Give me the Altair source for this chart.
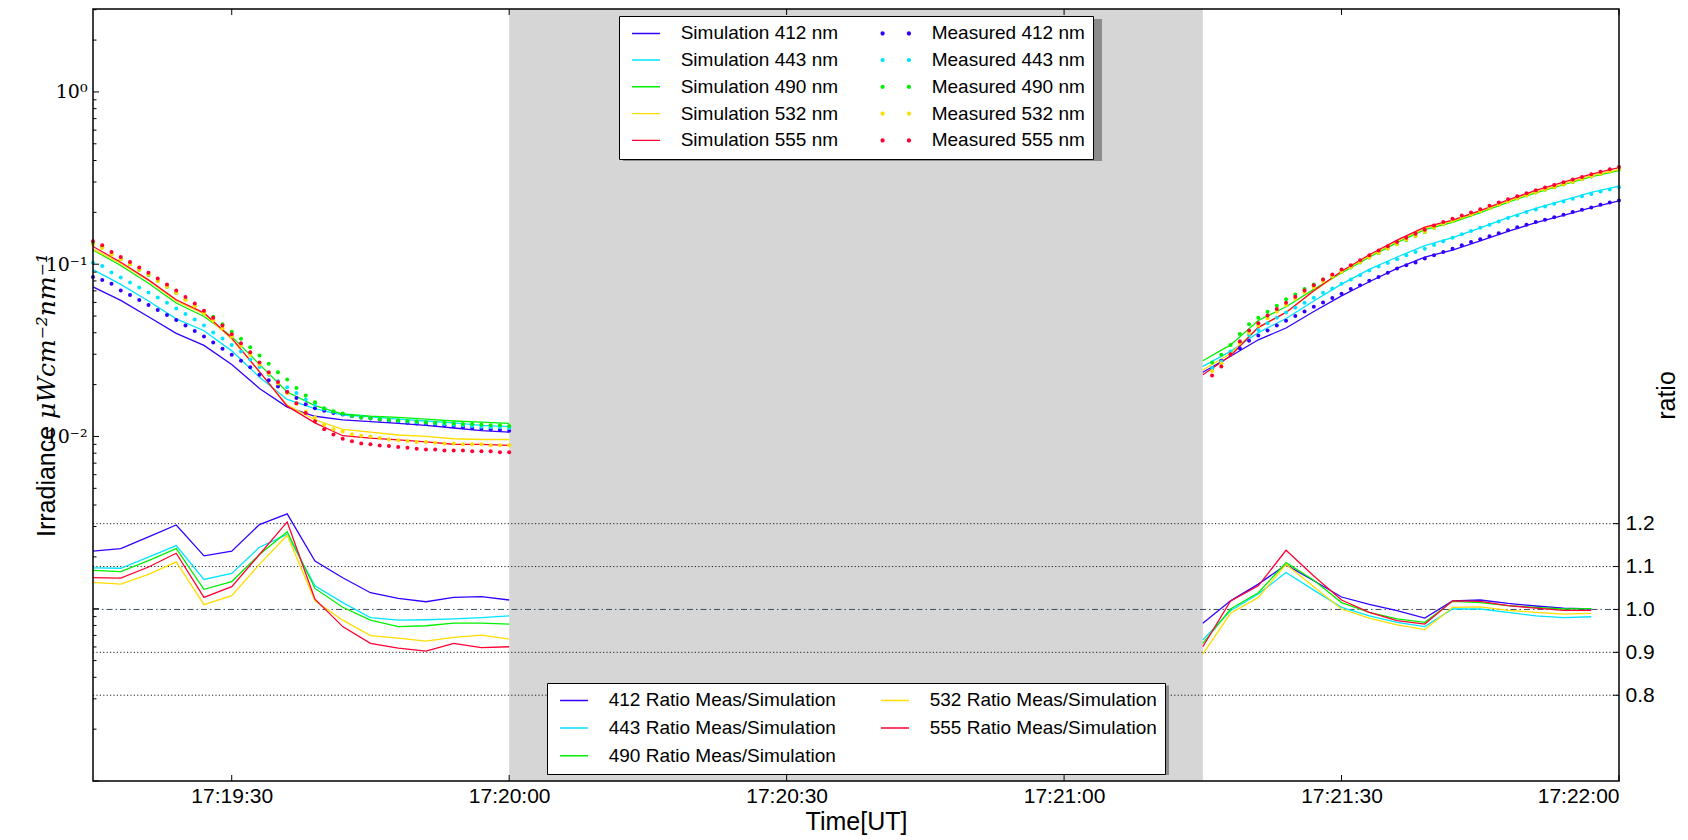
import altair as alt
import pandas as pd

# ---------------------------------------------------------------- data
WAVELENGTHS = ["412", "443", "490", "532", "555"]
COLORS = ["#3300ff", "#00e5ff", "#00f000", "#ffdd00", "#ff0033"]

# time axis: seconds after 17:19:00 UT
X_DOMAIN = [15, 180]
X_TICKS = [30, 60, 90, 120, 150, 180]
X_TICK_LABELS = ["17:19:30", "17:20:00", "17:20:30", "17:21:00", "17:21:30", "17:22:00"]
GAP_START = [60]
GAP_END = [135]

IRR_DOMAIN = [1e-4, 3.03]
IRR_LABEL_VALUES = [1, 0.1, 0.01]
IRR_LABELS = ["10⁰", "10⁻¹", "10⁻²"]
IRR_MAJOR = [1e-4, 1e-3, 1e-2, 1e-1, 1]
IRR_MINOR = [0.0002, 0.0003, 0.0004, 0.0005, 0.0006, 0.0007, 0.0008, 0.0009,
             0.002, 0.003, 0.004, 0.005, 0.006, 0.007, 0.008, 0.009,
             0.02, 0.03, 0.04, 0.05, 0.06, 0.07, 0.08, 0.09,
             0.2, 0.3, 0.4, 0.5, 0.6, 0.7, 0.8, 0.9, 2, 3]

RATIO_DOMAIN = [0.6, 2.4]
RATIO_TICKS = [0.8, 0.9, 1.0, 1.1, 1.2]
RATIO_DOTTED = [0.8, 0.9, 1.1, 1.2]
RATIO_DASHDOT = [1.0]

MEAS_T_LEFT = [15, 16, 17, 18, 19, 20, 21, 22, 23, 24, 25, 26, 27, 28, 29, 30,
               31, 32, 33, 34, 35, 36, 37, 38, 39, 40, 41, 42, 43, 44, 45, 46,
               47, 48, 49, 50, 51, 52, 53, 54, 55, 56, 57, 58, 59, 60]
MEAS_T_RIGHT = [136, 137, 138, 139, 140, 141, 142, 143, 144, 145, 146, 147, 148,
                149, 150, 151, 152, 153, 154, 155, 156, 157, 158, 159, 160, 161,
                162, 163, 164, 165, 166, 167, 168, 169, 170, 171, 172, 173, 174,
                175, 176, 177, 178, 179, 180]
SIM_T_LEFT = [15, 18, 21, 24, 27, 30, 33, 36, 39, 42, 45, 48, 51, 54, 57, 60]
SIM_T_RIGHT = [135, 138, 141, 144, 147, 150, 153, 156, 159, 162, 165, 168, 171, 174, 177, 180]
RATIO_T_LEFT = [15, 18, 21, 24, 27, 30, 33, 36, 39, 42, 45, 48, 51, 54, 57, 60]
RATIO_T_RIGHT = [135, 138, 141, 144, 147, 150, 153, 156, 159, 162, 165, 168, 171, 174, 177]

MEAS_LEFT = {
    "412": [0.0844, 0.0810, 0.0771, 0.0704, 0.0662, 0.0619, 0.0579, 0.0542, 0.0507, 0.0475,
            0.0440, 0.0410, 0.0380, 0.0351, 0.0323, 0.0298, 0.0275, 0.0252, 0.0228, 0.0212,
            0.0195, 0.0181, 0.0167, 0.0154, 0.0146, 0.0141, 0.0137, 0.0134, 0.0131, 0.0129,
            0.0127, 0.0125, 0.0123, 0.0122, 0.0120, 0.0119, 0.0118, 0.0117, 0.0116, 0.0115,
            0.0113, 0.0112, 0.0111, 0.0110, 0.0109, 0.0108],
    "443": [0.102, 0.0977, 0.0894, 0.0837, 0.0783, 0.0732, 0.0685, 0.0641, 0.0597, 0.0554,
            0.0514, 0.0478, 0.0440, 0.0402, 0.0371, 0.0340, 0.0311, 0.0280, 0.0253, 0.0228,
            0.0209, 0.0193, 0.0179, 0.0164, 0.0153, 0.0145, 0.0139, 0.0135, 0.0132, 0.0130,
            0.0128, 0.0126, 0.0124, 0.0123, 0.0122, 0.0121, 0.0120, 0.0119, 0.0118, 0.0117,
            0.0116, 0.0115, 0.0114, 0.0113, 0.0113, 0.0112],
    "490": [0.132, 0.125, 0.114, 0.107, 0.100, 0.093, 0.0865, 0.080, 0.074, 0.068,
            0.0625, 0.0575, 0.052, 0.0496, 0.0448, 0.0406, 0.0369, 0.0330, 0.0295, 0.0264,
            0.0236, 0.0214, 0.0191, 0.0173, 0.0158, 0.0146, 0.0140, 0.0136, 0.0132, 0.0129,
            0.0128, 0.0126, 0.0125, 0.0124, 0.0123, 0.0122, 0.0121, 0.0120, 0.0120, 0.0119,
            0.0118, 0.0118, 0.0117, 0.0116, 0.0116, 0.0115],
    "532": [0.130, 0.124, 0.114, 0.107, 0.100, 0.093, 0.087, 0.080, 0.074, 0.068,
            0.062, 0.057, 0.052, 0.0473, 0.0425, 0.038, 0.0337, 0.0298, 0.0262, 0.0231,
            0.0203, 0.0178, 0.0155, 0.0139, 0.0129, 0.0117, 0.0110, 0.0107, 0.0103, 0.0101,
            0.0100, 0.0098, 0.0096, 0.0095, 0.0094, 0.0093, 0.0093, 0.0092, 0.0091, 0.0091,
            0.0090, 0.0090, 0.0090, 0.0089, 0.0089, 0.0089],
    "555": [0.136, 0.1288, 0.1178, 0.1102, 0.1031, 0.0956, 0.0891, 0.0826, 0.0762, 0.0704,
            0.0645, 0.0592, 0.0537, 0.0489, 0.0440, 0.0392, 0.0348, 0.0308, 0.0269, 0.0236,
            0.0207, 0.0181, 0.0156, 0.0137, 0.01226, 0.0110, 0.01025, 0.0097, 0.00939, 0.0091,
            0.0090, 0.00887, 0.0088, 0.0087, 0.0086, 0.0085, 0.0084, 0.0084, 0.0083, 0.0083,
            0.0083, 0.0082, 0.0082, 0.0082, 0.0081, 0.0081],
}
MEAS_RIGHT = {
    "412": [0.0249, 0.0275, 0.0298, 0.0325, 0.0359, 0.0385, 0.0412, 0.0440, 0.0470, 0.0500,
            0.0532, 0.0567, 0.0600, 0.0636, 0.0674, 0.0717, 0.0756, 0.0801, 0.0844, 0.0891,
            0.0944, 0.0987, 0.1022, 0.1078, 0.1126, 0.1178, 0.1231, 0.1287, 0.1345, 0.1394,
            0.1451, 0.1510, 0.1572, 0.1636, 0.1695, 0.1756, 0.1811, 0.1876, 0.1936, 0.2006,
            0.2069, 0.2135, 0.2212, 0.2281, 0.2343],
    "443": [0.0250, 0.0272, 0.0311, 0.0356, 0.0388, 0.0415, 0.0454, 0.0489, 0.0525, 0.0559,
            0.0597, 0.0638, 0.0682, 0.0723, 0.0769, 0.0815, 0.0864, 0.0919, 0.0969, 0.1017,
            0.1068, 0.1126, 0.1178, 0.1231, 0.1293, 0.1358, 0.1426, 0.1491, 0.1558, 0.1629,
            0.1695, 0.1772, 0.1852, 0.1919, 0.2006, 0.2079, 0.2163, 0.2241, 0.2312, 0.2395,
            0.2482, 0.2560, 0.2641, 0.2713, 0.2798],
    "490": [0.0269, 0.0298, 0.0340, 0.0394, 0.0448, 0.0489, 0.0530, 0.0574, 0.0627, 0.0667,
            0.0717, 0.0763, 0.0815, 0.0845, 0.0903, 0.0956, 0.1022, 0.1092, 0.1163, 0.1232,
            0.1305, 0.1383, 0.1458, 0.1538, 0.1630, 0.1703, 0.1781, 0.1861, 0.1937, 0.2024,
            0.2117, 0.2213, 0.2312, 0.2408, 0.2506, 0.2607, 0.2702, 0.2800, 0.2900, 0.3005,
            0.3114, 0.3226, 0.3343, 0.3447, 0.3556],
    "532": [0.0240, 0.0265, 0.0300, 0.0350, 0.0400, 0.0440, 0.0485, 0.0530, 0.0580, 0.0630,
            0.0685, 0.0735, 0.0795, 0.0850, 0.0905, 0.0960, 0.1025, 0.1095, 0.1165, 0.1235,
            0.1310, 0.1390, 0.1465, 0.1545, 0.1635, 0.1710, 0.1790, 0.1870, 0.1945, 0.2035,
            0.2125, 0.2220, 0.2320, 0.2415, 0.2515, 0.2615, 0.2710, 0.2810, 0.2910, 0.3015,
            0.3125, 0.3235, 0.3355, 0.3460, 0.3570],
    "555": [0.0226, 0.0255, 0.0300, 0.0356, 0.0412, 0.0454, 0.0503, 0.0549, 0.0597, 0.0647,
            0.0704, 0.0756, 0.0815, 0.0871, 0.0931, 0.0986, 0.1054, 0.1126, 0.1199, 0.1270,
            0.1345, 0.1426, 0.1503, 0.1586, 0.1680, 0.1756, 0.1836, 0.1919, 0.1997, 0.2087,
            0.2182, 0.2281, 0.2384, 0.2482, 0.2583, 0.2688, 0.2786, 0.2886, 0.2990, 0.3098,
            0.3210, 0.3326, 0.3446, 0.3554, 0.3666],
}
SIM_LEFT = {
    "412": [0.0739, 0.0617, 0.0495, 0.0397, 0.0338, 0.0262, 0.0190, 0.0148,
            0.0131, 0.0125, 0.0122, 0.0119, 0.0116, 0.0112, 0.0108, 0.0106],
    "443": [0.0930, 0.0764, 0.0611, 0.0482, 0.0411, 0.0314, 0.0221, 0.0164,
            0.0145, 0.0133, 0.0130, 0.0126, 0.0123, 0.0120, 0.0116, 0.0114],
    "490": [0.121, 0.0983, 0.0776, 0.0595, 0.0497, 0.0381, 0.0262, 0.0181,
            0.0151, 0.0135, 0.0131, 0.0129, 0.0126, 0.0123, 0.0121, 0.0119],
    "532": [0.1223, 0.1010, 0.0804, 0.0612, 0.0514, 0.0368, 0.0237, 0.0152,
            0.0125, 0.0110, 0.0106, 0.0102, 0.0100, 0.0097, 0.0096, 0.0096],
    "555": [0.1266, 0.1027, 0.0811, 0.0622, 0.0522, 0.0372, 0.0238, 0.0150,
            0.0120, 0.0101, 0.00977, 0.00956, 0.00930, 0.00901, 0.00900, 0.00887],
}
SIM_RIGHT = {
    "412": [0.0236, 0.0292, 0.0364, 0.0426, 0.0531, 0.0655, 0.0791, 0.0946,
            0.1100, 0.1207, 0.1364, 0.1550, 0.1742, 0.1921, 0.2129, 0.2330],
    "443": [0.0255, 0.0312, 0.0401, 0.0484, 0.0611, 0.0766, 0.0933, 0.1101,
            0.1282, 0.1425, 0.1627, 0.1865, 0.2111, 0.2347, 0.2610, 0.2836],
    "490": [0.0275, 0.0340, 0.0471, 0.0566, 0.0714, 0.0889, 0.1100, 0.1334,
            0.1586, 0.1748, 0.1992, 0.2291, 0.2594, 0.2897, 0.3221, 0.3490],
    "532": [0.0243, 0.0303, 0.0428, 0.0525, 0.0698, 0.0904, 0.1117, 0.1359,
            0.1621, 0.1781, 0.2023, 0.2325, 0.2633, 0.2930, 0.3264, 0.3540],
    "555": [0.0228, 0.0294, 0.0430, 0.0525, 0.0701, 0.0911, 0.1134, 0.1381,
            0.1642, 0.1800, 0.2048, 0.2363, 0.2680, 0.2996, 0.3333, 0.3640],
}
RATIO_LEFT = {
    "412": [1.136, 1.142, 1.169, 1.197, 1.125, 1.136, 1.198, 1.223,
            1.113, 1.074, 1.039, 1.026, 1.018, 1.028, 1.030, 1.022],
    "443": [1.097, 1.096, 1.122, 1.149, 1.070, 1.084, 1.145, 1.175,
            1.055, 1.016, 0.981, 0.975, 0.976, 0.978, 0.981, 0.985],
    "490": [1.091, 1.088, 1.114, 1.142, 1.047, 1.065, 1.128, 1.181,
            1.049, 1.005, 0.975, 0.960, 0.962, 0.968, 0.968, 0.966],
    "532": [1.063, 1.059, 1.082, 1.111, 1.011, 1.032, 1.105, 1.173,
            1.020, 0.975, 0.939, 0.933, 0.926, 0.935, 0.940, 0.931],
    "555": [1.074, 1.073, 1.099, 1.131, 1.028, 1.053, 1.128, 1.204,
            1.024, 0.960, 0.921, 0.910, 0.903, 0.921, 0.911, 0.913],
}
RATIO_RIGHT = {
    "412": [0.968, 1.020, 1.059, 1.104, 1.067, 1.029, 1.012, 0.997,
            0.980, 1.020, 1.022, 1.014, 1.008, 1.003, 1.001],
    "443": [0.929, 0.997, 1.036, 1.086, 1.045, 1.005, 0.985, 0.970,
            0.960, 1.001, 1.001, 0.993, 0.985, 0.981, 0.983],
    "490": [0.921, 1.001, 1.039, 1.109, 1.068, 1.016, 0.993, 0.978,
            0.970, 1.019, 1.016, 1.009, 1.005, 1.001, 1.002],
    "532": [0.896, 0.991, 1.028, 1.105, 1.053, 1.001, 0.980, 0.964,
            0.953, 1.005, 1.006, 0.998, 0.993, 0.989, 0.991],
    "555": [0.913, 1.020, 1.055, 1.138, 1.078, 1.022, 0.993, 0.974,
            0.966, 1.020, 1.019, 1.009, 1.003, 0.998, 0.998],
}

# legend entries (Vega fills the two columns top to bottom)
LEG_A_LABELS = ([f"Simulation {wl} nm" for wl in WAVELENGTHS]
                + [f"Measured {wl} nm" for wl in WAVELENGTHS])
LEG_A_COLORS = COLORS + COLORS
LEG_A_KIND = ["line"] * 5 + ["dots"] * 5
LEG_B_LABELS = [f"{wl} Ratio Meas/Simulation" for wl in WAVELENGTHS]
LEG_B_COLORS = COLORS

# ---------------------------------------------------------------- tables
def long_table(times_l, times_r, left, right, name):
    rows = []
    for wl in WAVELENGTHS:
        for seg, ts, vs in (("L", times_l, left[wl]), ("R", times_r, right[wl])):
            for t, v in zip(ts, vs):
                rows.append({"wl": wl, "seg": seg, "t": t, name: v})
    return pd.DataFrame(rows)

sim_df = long_table(SIM_T_LEFT, SIM_T_RIGHT, SIM_LEFT, SIM_RIGHT, "v")
meas_df = long_table(MEAS_T_LEFT, MEAS_T_RIGHT, MEAS_LEFT, MEAS_RIGHT, "v")
ratio_df = long_table(RATIO_T_LEFT, RATIO_T_RIGHT, RATIO_LEFT, RATIO_RIGHT, "r")
band_df = pd.DataFrame({"x0": GAP_START, "x1": GAP_END})
xt_df = pd.DataFrame({"t": X_TICKS})
ymaj_df = pd.DataFrame({"v": IRR_MAJOR})
ymin_df = pd.DataFrame({"v": IRR_MINOR})
rt_df = pd.DataFrame({"r": RATIO_TICKS})
dot_df = pd.DataFrame({"r": RATIO_DOTTED})
dd_df = pd.DataFrame({"r": RATIO_DASHDOT})
one_df = pd.DataFrame({"a": [0]})
legA_df = pd.DataFrame({"la": LEG_A_LABELS})
legB_df = pd.DataFrame({"lb": LEG_B_LABELS})

# ---------------------------------------------------------------- styling
W, H = 1526, 772
FONT = "Liberation Sans"
LINE_PATH = "M-0.62,-0.05L1.38,-0.05L1.38,0.05L-0.62,0.05Z"
DOTS_PATH = ("M-0.80,0A0.15,0.15 0 1 0 -0.50,0A0.15,0.15 0 1 0 -0.80,0Z"
             "M1.08,0A0.15,0.15 0 1 0 1.38,0A0.15,0.15 0 1 0 1.08,0Z")
LEG_A_SHAPES = [LINE_PATH if k == "line" else DOTS_PATH for k in LEG_A_KIND]
B_LINE_PATH = "M-0.69,0L1.31,0"

x_expr = "''"
for v, lab in reversed(list(zip(X_TICKS, X_TICK_LABELS))):
    x_expr = f"datum.value == {v} ? '{lab}' : ({x_expr})"
y_expr = "''"
for v, lab in reversed(list(zip(IRR_LABEL_VALUES, IRR_LABELS))):
    y_expr = f"abs(datum.value - {v}) < {v} * 0.001 ? '{lab}' : ({y_expr})"

x_scale = alt.Scale(domain=X_DOMAIN, nice=False, zero=False)
x_axis = alt.Axis(values=X_TICKS, labelExpr=x_expr, title="Time[UT]",
                  labelFont=FONT, labelFontSize=21, labelPadding=4,
                  titleFont=FONT, titleFontSize=25, titleFontWeight="normal",
                  titleY=48, titleBaseline="alphabetic")
yl_scale = alt.Scale(type="log", domain=IRR_DOMAIN, nice=False)
yl_axis = alt.Axis(orient="left", values=IRR_LABEL_VALUES, labelExpr=y_expr,
                   labelFont="DejaVu Serif", labelFontSize=19, labelPadding=6,
                   title=None)
yr_scale = alt.Scale(domain=RATIO_DOMAIN, nice=False, zero=False)
yr_axis = alt.Axis(orient="right", values=RATIO_TICKS, format=".1f",
                   labelFont=FONT, labelFontSize=21, labelPadding=6,
                   title="ratio", titleFont=FONT, titleFontSize=25,
                   titleFontWeight="normal", titleAngle=270, titleX=55,
                   titleY=H / 2, titleAlign="center", titleBaseline="alphabetic")

color = alt.Color("wl:N", scale=alt.Scale(domain=WAVELENGTHS, range=COLORS), legend=None)

def X(field="t"):
    return alt.X(f"{field}:Q", scale=x_scale, axis=x_axis)

def YL():
    return alt.Y("v:Q", scale=yl_scale, axis=yl_axis)

def YR():
    return alt.Y("r:Q", scale=yr_scale, axis=yr_axis)

def legend_a():
    return alt.Legend(title=None, orient="none", legendX=526, legendY=7,
                      columns=2, symbolSize=784, symbolStrokeWidth=0,
                      labelFont=FONT, labelFontSize=19, labelColor="black",
                      labelOffset=26, labelLimit=400, rowPadding=6.8,
                      columnPadding=39, padding=7.7, clipHeight=19,
                      strokeColor="black", fillColor="white")

# ---------------------------------------------------------------- left (irradiance)
band = alt.Chart(band_df).mark_rect(color="#d6d6d6").encode(
    x=X("x0"), x2="x1:Q", y=alt.value(0), y2=alt.value(H))

sim = alt.Chart(sim_df).mark_line(strokeWidth=1.3).encode(
    x=X(), y=YL(), color=color, detail="seg:N")

meas = alt.Chart(meas_df).mark_circle(size=16, opacity=1).encode(
    x=X(), y=YL(), color=color)

ymaj = alt.Chart(ymaj_df).mark_rule(color="black", strokeWidth=1).encode(
    y=YL(), x=alt.value(0), x2=alt.value(6))
ymin = alt.Chart(ymin_df).mark_rule(color="black", strokeWidth=1).encode(
    y=YL(), x=alt.value(0), x2=alt.value(3.5))

title1 = alt.Chart(one_df).mark_text(
    text="Irradiance", angle=270, align="left", baseline="alphabetic",
    font=FONT, fontSize=25, color="black").encode(x=alt.value(-38), y=alt.value(528))
title2 = alt.Chart(one_df).mark_text(
    text="μWcm⁻²nm⁻¹", angle=270, align="left", baseline="alphabetic",
    font="DejaVu Serif", fontStyle="italic", fontSize=25, color="black").encode(
    x=alt.value(-38), y=alt.value(410))

legA = alt.Chart(legA_df).mark_point(filled=True, opacity=1).encode(
    fill=alt.Fill("la:N", scale=alt.Scale(domain=LEG_A_LABELS, range=LEG_A_COLORS),
                  legend=legend_a()),
    shape=alt.Shape("la:N", scale=alt.Scale(domain=LEG_A_LABELS, range=LEG_A_SHAPES),
                    legend=legend_a()),
).transform_filter("false")

left = alt.layer(band, sim, meas, ymaj, ymin, title1, title2, legA)

# ---------------------------------------------------------------- right (ratio)
dotted = alt.Chart(dot_df).mark_rule(color="#222222", strokeWidth=1, strokeDash=[1.2, 2.2]).encode(
    y=YR(), x=alt.value(0), x2=alt.value(W))
dashdot = alt.Chart(dd_df).mark_rule(color="#3b4b5e", strokeWidth=1, strokeDash=[6, 3, 1.5, 3]).encode(
    y=YR(), x=alt.value(0), x2=alt.value(W))

ratio = alt.Chart(ratio_df).mark_line(strokeWidth=1.3).encode(
    x=X(), y=YR(), color=color, detail="seg:N")

rticks = alt.Chart(rt_df).mark_rule(color="black", strokeWidth=1).encode(
    y=YR(), x=alt.value(W - 6), x2=alt.value(W))
xbot = alt.Chart(xt_df).mark_rule(color="black", strokeWidth=1).encode(
    x=X(), y=alt.value(H - 6), y2=alt.value(H))
xtop = alt.Chart(xt_df).mark_rule(color="black", strokeWidth=1).encode(
    x=X(), y=alt.value(0), y2=alt.value(6))

shadowA = alt.Chart(one_df).mark_rect(color="#8c8c8c").encode(
    x=alt.value(530), x2=alt.value(1009), y=alt.value(10), y2=alt.value(152))
shadowB = alt.Chart(one_df).mark_rect(color="#8c8c8c").encode(
    x=alt.value(458), x2=alt.value(1076), y=alt.value(676.5), y2=alt.value(766))

legB = alt.Chart(legB_df).mark_point(filled=False, opacity=1).encode(
    stroke=alt.Stroke("lb:N", scale=alt.Scale(domain=LEG_B_LABELS, range=LEG_B_COLORS),
                      legend=alt.Legend(title=None, orient="none", legendX=454, legendY=674,
                                        columns=2, symbolType=B_LINE_PATH, symbolSize=784,
                                        symbolStrokeWidth=1.5, labelFont=FONT,
                                        labelFontSize=19, labelColor="black",
                                        labelOffset=24, labelLimit=400, rowPadding=7.8,
                                        columnPadding=39, padding=7.7, clipHeight=19,
                                        strokeColor="black", fillColor="white")),
).transform_filter("false")

frame = alt.Chart(one_df).mark_rect(fill="transparent", stroke="black", strokeWidth=1.5).encode(
    x=alt.value(0), x2=alt.value(W), y=alt.value(0), y2=alt.value(H))

right = alt.layer(dotted, dashdot, ratio, rticks, xbot, xtop, shadowA, shadowB, legB, frame)

chart = alt.layer(left, right).resolve_scale(y="independent").properties(
    width=W, height=H,
    autosize=alt.AutoSizeParams(type="none"),
    padding={"left": 85, "top": 1, "right": 61, "bottom": 55},
).configure_axis(
    grid=False, domain=False, ticks=False, tickSize=0,
    labelColor="black", titleColor="black",
).configure_view(stroke=None)

chart.save("out.html", embed_options={"renderer": "svg", "actions": False})
